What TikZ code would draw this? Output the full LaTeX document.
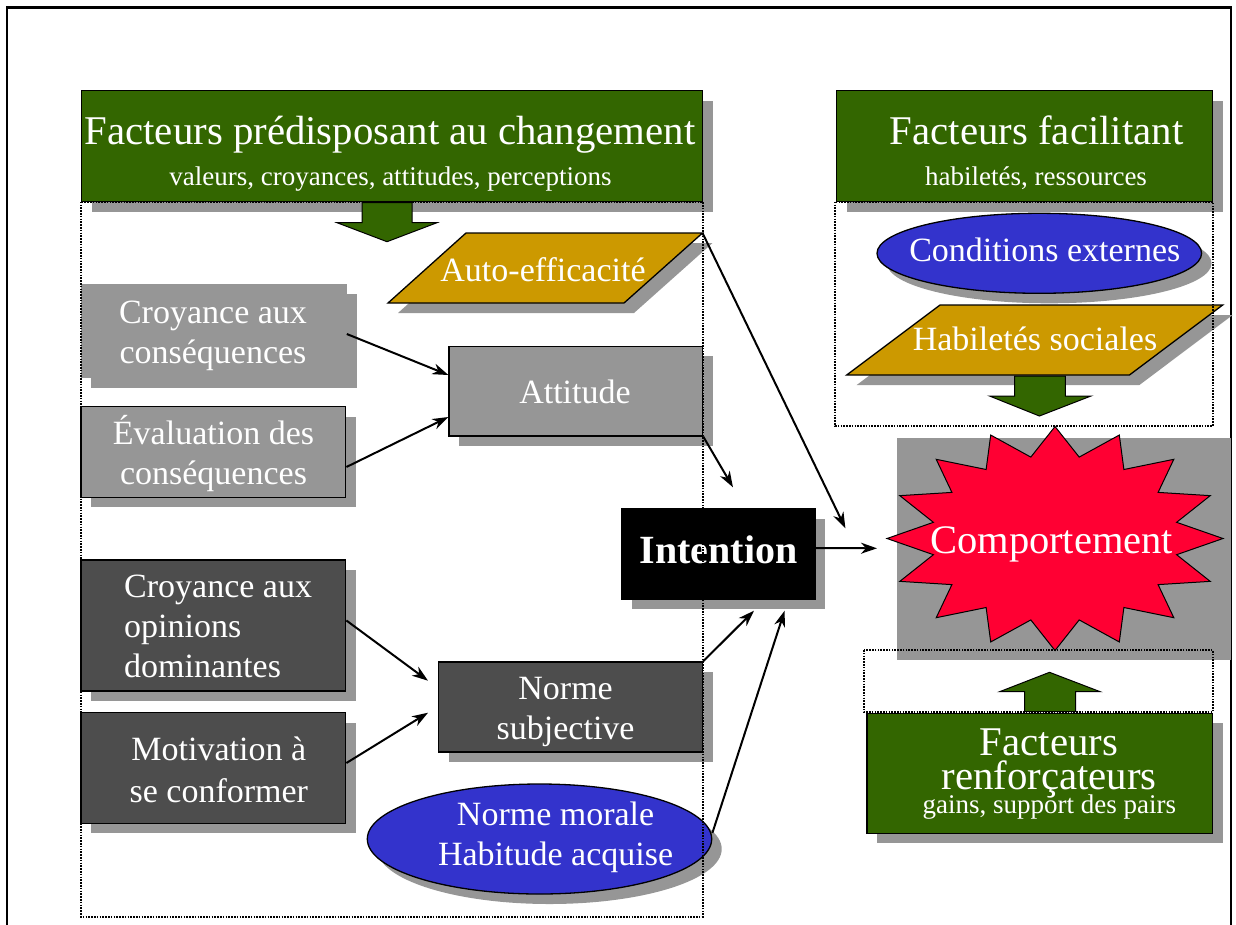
\documentclass[tikz,border=0pt]{standalone}
\usepackage{fontspec}
\setmainfont{Liberation Serif}
\usetikzlibrary{arrows.meta,shadows,shapes.geometric}
\definecolor{cgreen}{HTML}{336600}
\definecolor{cgold}{HTML}{CC9900}
\definecolor{cblue}{HTML}{3333CC}
\definecolor{cgray}{HTML}{969696}
\definecolor{cdark}{HTML}{4D4D4D}
\definecolor{cred}{HTML}{FF0033}
\definecolor{cshadow}{HTML}{969696}
\newcommand\fsz[2]{\fontsize{#1}{#2}\selectfont}
\begin{document}
\begin{tikzpicture}[x=1pt,y=-1pt,
  shd/.style={drop shadow={shadow xshift=10pt,shadow yshift=-10pt,fill=cshadow,opacity=1}},
  boxline/.style={draw=black,line width=1.3pt},
  gbox/.style={rectangle,fill=cgreen,boxline,shd,inner sep=0pt},
  lbox/.style={rectangle,fill=cgray,shd,inner sep=0pt},
  ebox/.style={rectangle,fill=cgray,boxline,shd,inner sep=0pt},
  dbox/.style={rectangle,fill=cdark,boxline,shd,inner sep=0pt},
  kbox/.style={rectangle,fill=black,boxline,shd,inner sep=0pt},
  bell/.style={ellipse,fill=cblue,boxline,shd,inner sep=0pt},
  wt/.style={text=white,inner sep=0pt},
  arr/.style={line width=2pt,-{Stealth[length=16pt,width=11pt,inset=5pt]}},
  dotbox/.style={line width=2pt,dash pattern=on 1.6pt off 1.2pt},
  garrow/.style={fill=cgreen,draw=black,line width=1pt}
]
\useasboundingbox (0,0) rectangle (1236,924);
% outer frame
\draw[line width=2.5pt] (7,935) -- (7,7.5) -- (1231,7.5) -- (1231,935);
% grey panel behind the star
\fill[cshadow] (897,438) rectangle (1231,660);

% ---- left column
\node[gbox,minimum width=621pt,minimum height=111pt] (pred) at (392,146.2) {};
\node[wt,font=\fsz{40.8}{40},anchor=base] (predt) at (390,144) {Facteurs prédisposant au changement};
\node[wt,font=\fsz{27}{27},anchor=base] (preds) at (390.5,185) {valeurs, croyances, attitudes, perceptions};

\path[garrow] (362,202.7) -- (412,202.7) -- (412,222.7) -- (437,222.7) -- (387,241.7) -- (337,222.7) -- (362,222.7) -- cycle;

\path[fill=cgold,boxline,shd] (388,303) -- (624,303) -- (702.5,233) coordinate (aetr) -- (466,233) -- cycle;
\node[wt,font=\fsz{34}{34},anchor=base] (ae) at (543,281.7) {Auto-efficacité};

\node[lbox,minimum width=265.6pt,minimum height=94pt] (cc) at (213.8,331) {};
\node[wt,font=\fsz{34}{40},align=center,anchor=base] (cct) at (213,363) {Croyance aux\\conséquences};

\node[ebox,minimum width=264.7pt,minimum height=90.6pt] (ev) at (213.4,452) {};
\node[wt,font=\fsz{34}{40},align=center,anchor=base] (evt) at (213.5,484) {Évaluation des\\conséquences};

\node[ebox,minimum width=253.5pt,minimum height=89.7pt] (att) at (575.8,391) {};
\node[wt,font=\fsz{34}{40},anchor=base] (attt) at (575,403) {Attitude};

\node[kbox,minimum width=193pt,minimum height=90.6pt] (int) at (718.5,554) {};
\node[wt,font=\bfseries\fsz{40}{40},anchor=base] (intt) at (718.7,563) {Intention};

\node[dbox,minimum width=264.7pt,minimum height=131pt] (cod) at (213.4,625.5) {};
\node[wt,font=\fsz{34}{40},align=left,anchor=base west] (codt) at (124,677) {Croyance aux\\opinions\\dominantes};

\node[dbox,minimum width=264.7pt,minimum height=110.6pt] (mot) at (213.4,768) {};
\node[wt,font=\fsz{34}{42},align=center,anchor=base] (mott) at (218.8,802) {Motivation à\\se conformer};

\node[dbox,minimum width=264pt,minimum height=90pt] (ns) at (570.5,707) {};
\node[wt,font=\fsz{34}{40},align=center,anchor=base] (nst) at (565.6,739) {Norme\\subjective};

\node[bell,minimum width=344.4pt,minimum height=110pt] (nm) at (539.5,839) {};
\node[wt,font=\fsz{34}{40},align=center,anchor=base] (nmt) at (555.6,865) {Norme morale\\Habitude acquise};

% ---- right column
\node[gbox,minimum width=376pt,minimum height=111pt] (fac) at (1024.5,146.2) {};
\node[wt,font=\fsz{40.8}{40},anchor=base] (fact) at (1036.6,144) {Facteurs facilitant};
\node[wt,font=\fsz{27}{27},anchor=base] (facs) at (1036,185) {habiletés, ressources};

\node[bell,minimum width=324.6pt,minimum height=80pt] (ce) at (1039.3,253.3) {};
\node[wt,font=\fsz{34}{34},anchor=base] (cet) at (1044.8,261.7) {Conditions externes};

\path[fill=cgold,boxline,shd] (846.7,375) -- (1129.4,375) -- (1222.7,305) -- (940,305) -- cycle;
\node[wt,font=\fsz{34}{34},anchor=base] (hs) at (1035,350.7) {Habiletés sociales};

\path[garrow] (1014.6,376) -- (1065.3,376) -- (1065.3,396) -- (1091,396) -- (1039.4,416) -- (989.5,396) -- (1014.6,396) -- cycle;

\filldraw[fill=cred,draw=black,line width=1pt]
  plot[samples at={0,...,31},variable=\i]
  ({1055+cos(90+\i*11.25)*(mod(\i,2)==0 ? 168 : 124)},
   {538.5-sin(90+\i*11.25)*(mod(\i,2)==0 ? 112 : 83)}) -- cycle;
\node[wt,font=\fsz{40.5}{40},anchor=base] (comp) at (1051.7,553) {Comportement};

\path[garrow] (1024.7,711.7) -- (1075.5,711.7) -- (1075.5,691.7) -- (1100.2,691.7) -- (1049.5,672.3) -- (999.6,691.7) -- (1024.7,691.7) -- cycle;

\node[gbox,minimum width=345.6pt,minimum height=120pt] (ren) at (1039.8,773.3) {};
\node[wt,font=\fsz{40.8}{34},align=center,anchor=base] (rent) at (1049,789.3) {Facteurs\\renforçateurs};
\node[wt,font=\fsz{27}{27},anchor=base] (rens) at (1049.3,813.3) {gains, support des pairs};

% ---- free arrow ends
\coordinate (e1) at (733,487.3);
\coordinate (e2) at (845.4,528.3);
\coordinate (e3) at (877,548.3);
\coordinate (e4) at (428,680.7);
\coordinate (e5) at (428,712.7);
\coordinate (e6) at (754,610.7);
\coordinate (e7) at (784.6,610.7);

% ---- connectors
\draw[arr] ([yshift=-3pt]cc.east) -- ([yshift=16pt]att.west);
\draw[arr] ([yshift=-15pt]ev.east) -- ([yshift=-26pt]att.west);
\draw[arr] (att.south east) -- (e1);
\draw[arr] (aetr) -- (e2);
\draw[arr] ([yshift=6pt]int.east) -- (e3);
\draw[arr] ([yshift=5pt]cod.east) -- (e4);
\draw[arr] ([yshift=5pt]mot.east) -- (e5);
\draw[arr] (ns.north east) -- (e6);
\draw[arr] ([yshift=6pt]nm.east) -- (e7);

% ---- dotted groupings
\draw[dotbox] (81,201.7) rectangle (702.7,916.7);
\draw[dotbox] (835.3,201.7) rectangle (1212.6,426);
\draw[dotbox] (863.7,650) rectangle (1212.6,712);
\end{tikzpicture}
\end{document}
